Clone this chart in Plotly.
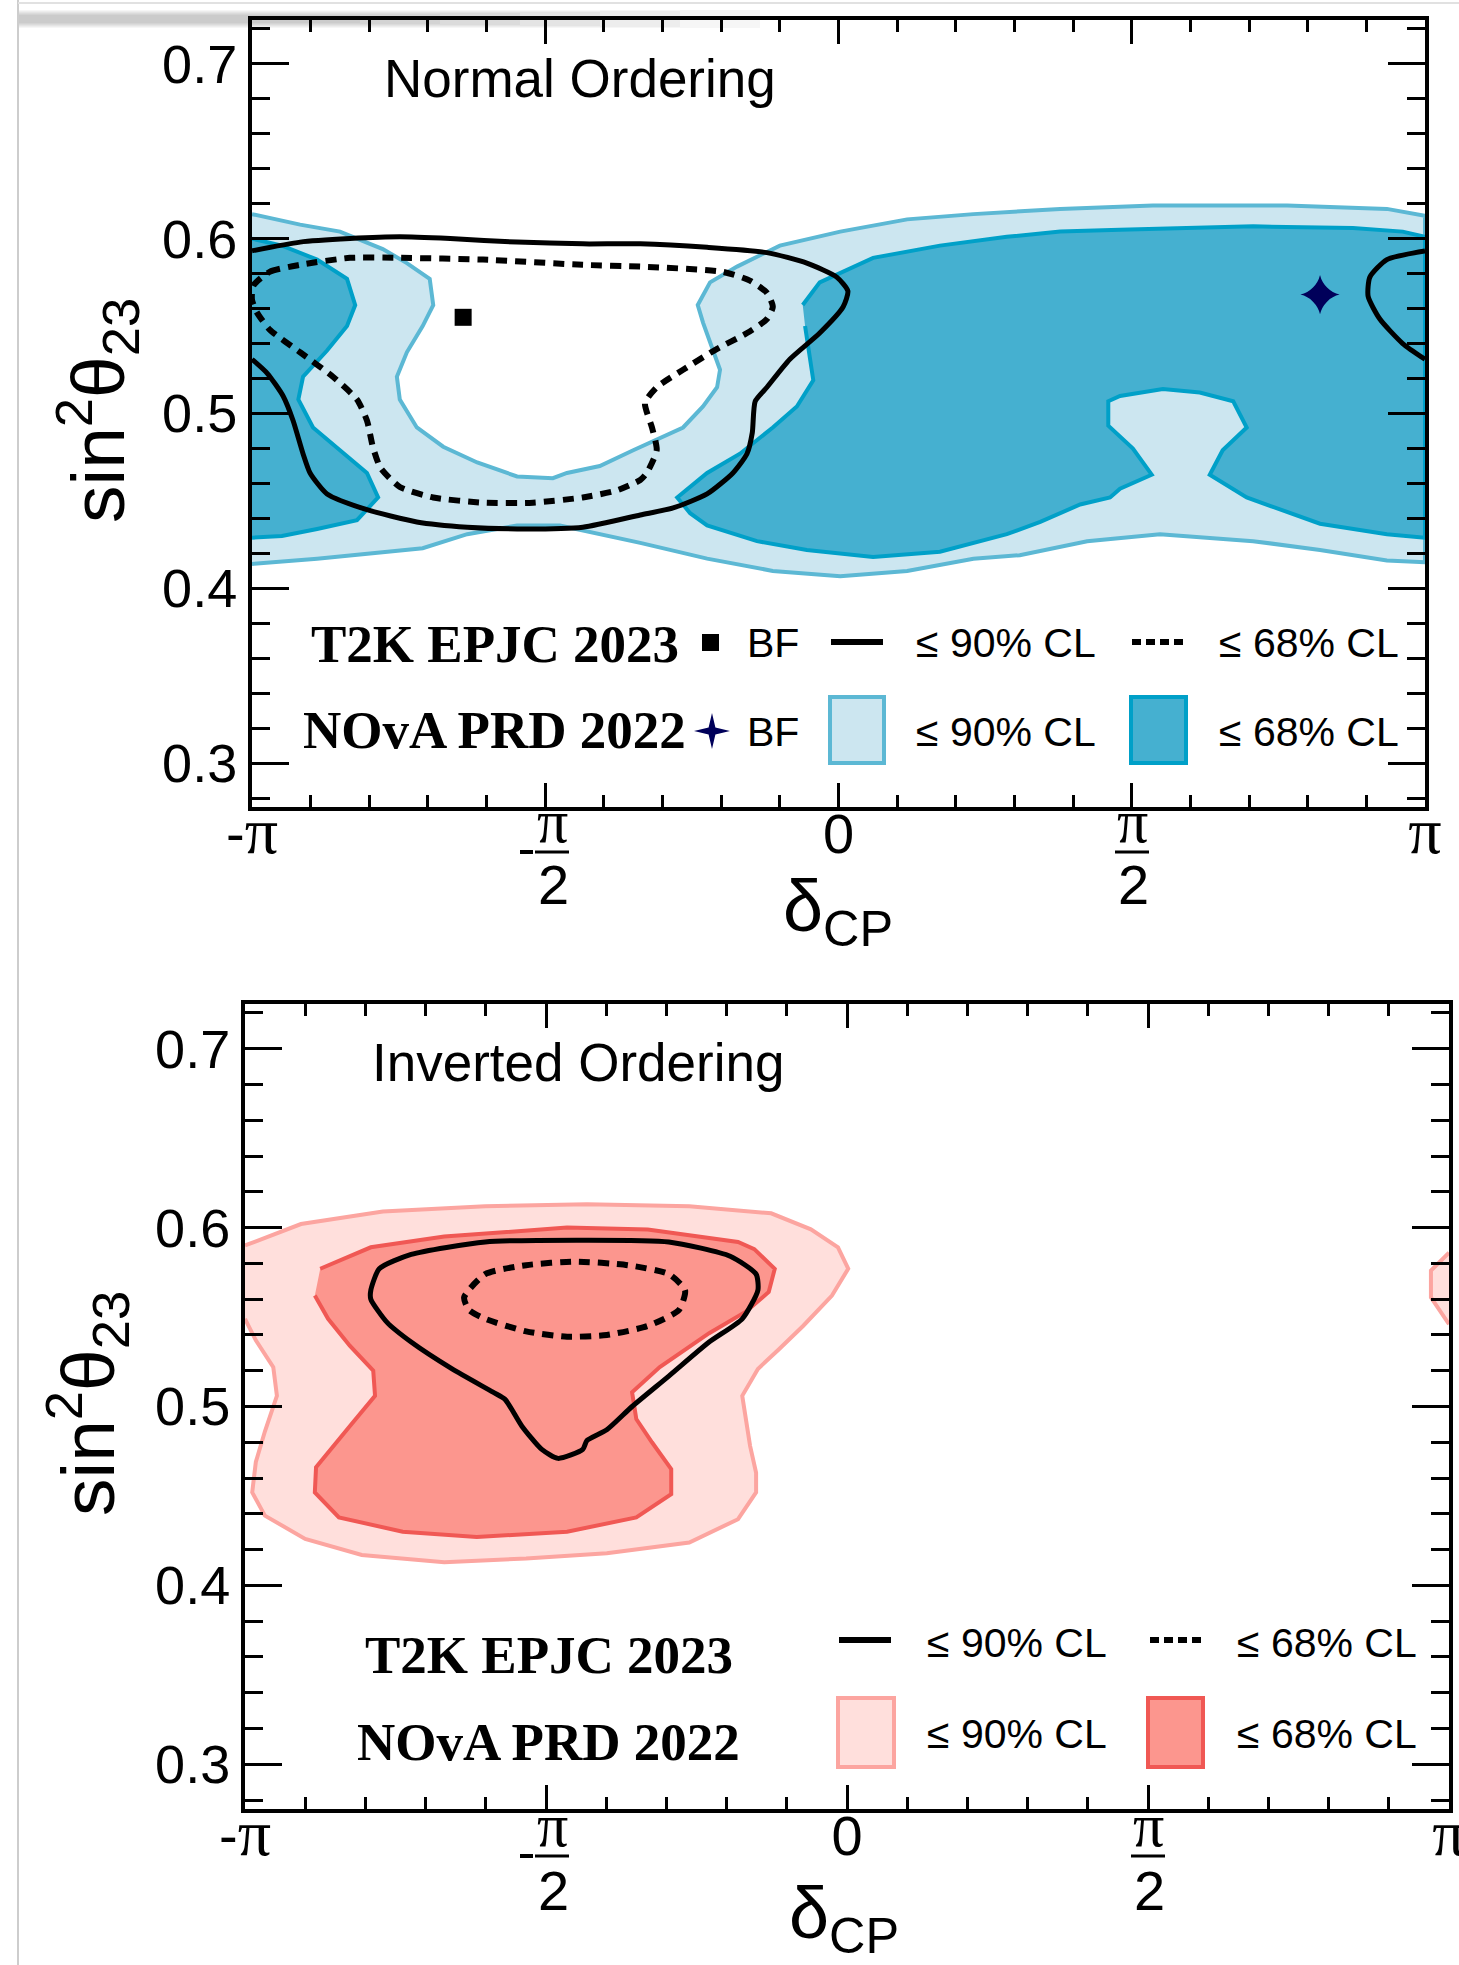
import plotly.graph_objects as go

W, H = 1459, 1965

# ---------------- DATA (x = delta_CP / pi, y = sin^2 theta_23) ----------------
# Normal Ordering - NOvA PRD 2022, 90% CL band (upper edge and lower edge, left -> right)
no_nova90_up_x = [-1.0, -0.918, -0.850, -0.777, -0.736, -0.697, -0.691, -0.709, -0.736, -0.753, -0.748, -0.719,
                  -0.674, -0.616, -0.548, -0.487, -0.463, -0.407, -0.350, -0.287, -0.265, -0.231, -0.207, -0.202,
                  -0.216, -0.231, -0.240, -0.219, -0.173, -0.100, 0.003, 0.117, 0.230, 0.378, 0.536, 0.765, 0.935, 1.0]
no_nova90_up_y = [0.614, 0.608, 0.604, 0.594, 0.586, 0.577, 0.562, 0.550, 0.535, 0.521, 0.508, 0.492,
                  0.481, 0.472, 0.464, 0.463, 0.466, 0.470, 0.479, 0.489, 0.492, 0.504, 0.515, 0.525,
                  0.538, 0.552, 0.562, 0.575, 0.584, 0.596, 0.604, 0.611, 0.614, 0.617, 0.619, 0.619, 0.617, 0.613]
no_nova90_lo_x = [-1.0, -0.889, -0.794, -0.709, -0.633, -0.548, -0.475, -0.407, -0.338, -0.224, -0.112,
                  0.003, 0.117, 0.230, 0.309, 0.424, 0.548, 0.707, 0.821, 0.935, 1.0]
no_nova90_lo_y = [0.414, 0.417, 0.420, 0.423, 0.431, 0.436, 0.436, 0.431, 0.426, 0.417, 0.410,
                  0.407, 0.410, 0.417, 0.419, 0.427, 0.431, 0.427, 0.422, 0.416, 0.415]

# Normal Ordering - NOvA 68% CL: piece at the left edge and main region
no_nova68_left_x = [-1.0, -0.949, -0.889, -0.838, -0.824, -0.838, -0.872, -0.913, -0.921, -0.896, -0.850,
                    -0.804, -0.785, -0.821, -0.889, -0.949, -1.0]
no_nova68_left_y = [0.600, 0.596, 0.588, 0.577, 0.562, 0.550, 0.536, 0.521, 0.508, 0.492, 0.479,
                    0.466, 0.452, 0.439, 0.434, 0.430, 0.429]
no_nova68_main_x = [-0.061, -0.032, 0.059, 0.173, 0.287, 0.378, 0.480, 0.707, 0.877, 0.962, 1.0, 1.0,
                    0.935, 0.821, 0.696, 0.633, 0.655, 0.696, 0.673, 0.616, 0.553, 0.480, 0.460, 0.460,
                    0.502, 0.534, 0.480, 0.463, 0.412, 0.344, 0.287, 0.173, 0.059, -0.054, -0.139, -0.224,
                    -0.253, -0.275, -0.224, -0.168, -0.112, -0.071, -0.043, -0.052, -0.057]
no_nova68_main_y = [0.562, 0.575, 0.589, 0.596, 0.601, 0.604, 0.605, 0.607, 0.606, 0.604, 0.601, 0.429,
                    0.431, 0.437, 0.452, 0.465, 0.479, 0.492, 0.507, 0.512, 0.514, 0.510, 0.507, 0.493,
                    0.480, 0.465, 0.457, 0.452, 0.448, 0.438, 0.431, 0.421, 0.418, 0.422, 0.427, 0.436,
                    0.443, 0.452, 0.466, 0.477, 0.492, 0.504, 0.519, 0.538, 0.550]

# Normal Ordering - T2K EPJC 2023 90% CL (main contour + wrap-around piece) and 68% CL
no_t2k90_x = [-1.0, -0.918, -0.833, -0.748, -0.662, -0.548, -0.436, -0.338, -0.224, -0.122, -0.054, -0.003,
              0.016, 0.008, -0.032, -0.083, -0.122, -0.142, -0.147, -0.156, -0.180, -0.224, -0.282, -0.338,
              -0.436, -0.548, -0.633, -0.719, -0.804, -0.872, -0.901, -0.913, -0.930, -0.947, -0.974, -1.0]
no_t2k90_y = [0.593, 0.598, 0.600, 0.601, 0.600, 0.598, 0.597, 0.597, 0.595, 0.592, 0.586, 0.578,
              0.570, 0.561, 0.546, 0.531, 0.515, 0.507, 0.489, 0.477, 0.466, 0.454, 0.446, 0.442,
              0.435, 0.434, 0.435, 0.438, 0.445, 0.454, 0.466, 0.477, 0.496, 0.510, 0.523, 0.531]
no_t2k90_right_x = [1.0, 0.935, 0.906, 0.903, 0.923, 0.962, 1.0]
no_t2k90_right_y = [0.593, 0.588, 0.578, 0.567, 0.554, 0.540, 0.531]
no_t2k68_x = [-0.998, -0.970, -0.918, -0.833, -0.748, -0.606, -0.436, -0.338, -0.197, -0.151, -0.122, -0.112,
              -0.122, -0.156, -0.207, -0.265, -0.310, -0.330, -0.318, -0.310, -0.327, -0.338, -0.378, -0.436,
              -0.521, -0.606, -0.691, -0.748, -0.781, -0.794, -0.804, -0.821, -0.862, -0.918, -0.970, -0.992,
              -1.0, -0.998]
no_t2k68_y = [0.573, 0.581, 0.585, 0.589, 0.589, 0.588, 0.585, 0.584, 0.581, 0.576, 0.569, 0.561,
              0.554, 0.546, 0.537, 0.525, 0.515, 0.506, 0.492, 0.479, 0.466, 0.462, 0.456, 0.452,
              0.449, 0.449, 0.452, 0.458, 0.469, 0.481, 0.496, 0.508, 0.521, 0.535, 0.548, 0.558,
              0.565, 0.573]
no_t2k_bf = ([-0.640], [0.555])
no_nova_bf = ([0.821], [0.568])

# Inverted Ordering - NOvA 90% CL (main + wrap piece), 68% CL
io_nova90_x = [-1.0, -0.907, -0.771, -0.601, -0.432, -0.262, -0.126, -0.060, -0.015, 0.002, -0.025, -0.073,
               -0.113, -0.148, -0.174, -0.168, -0.161, -0.151, -0.151, -0.181, -0.262, -0.399, -0.533, -0.669,
               -0.806, -0.900, -0.967, -0.988, -0.982, -0.967, -0.947, -0.953, -0.982, -1.0]
io_nova90_y = [0.590, 0.602, 0.609, 0.612, 0.613, 0.612, 0.608, 0.599, 0.589, 0.577, 0.562, 0.545,
               0.532, 0.521, 0.506, 0.493, 0.478, 0.463, 0.452, 0.437, 0.424, 0.418, 0.415, 0.413,
               0.417, 0.426, 0.439, 0.452, 0.469, 0.486, 0.506, 0.522, 0.537, 0.549]
io_nova90_right_x = [1.0, 0.970, 0.970, 1.0]
io_nova90_right_y = [0.586, 0.576, 0.561, 0.546]
io_nova68_x = [-0.875, -0.791, -0.669, -0.465, -0.331, -0.181, -0.154, -0.120, -0.130, -0.168, -0.229, -0.311,
               -0.357, -0.350, -0.324, -0.292, -0.292, -0.350, -0.465, -0.615, -0.738, -0.844, -0.884, -0.882,
               -0.826, -0.784, -0.787, -0.826, -0.862, -0.884]
io_nova68_y = [0.577, 0.589, 0.595, 0.600, 0.599, 0.592, 0.588, 0.577, 0.564, 0.553, 0.541, 0.522,
               0.508, 0.493, 0.480, 0.465, 0.451, 0.438, 0.430, 0.427, 0.430, 0.438, 0.452, 0.466,
               0.489, 0.506, 0.520, 0.534, 0.549, 0.562]
# Inverted Ordering - T2K 90% and 68% CL
io_t2k90_x = [-0.791, -0.777, -0.724, -0.601, -0.439, -0.296, -0.194, -0.151, -0.148, -0.174, -0.229, -0.296,
              -0.357, -0.399, -0.432, -0.439, -0.480, -0.507, -0.540, -0.568, -0.588, -0.656, -0.724, -0.764,
              -0.791, -0.791]
io_t2k90_y = [0.565, 0.577, 0.585, 0.592, 0.593, 0.592, 0.584, 0.574, 0.565, 0.549, 0.536, 0.517,
              0.500, 0.487, 0.481, 0.476, 0.471, 0.476, 0.489, 0.504, 0.508, 0.521, 0.536, 0.547,
              0.560, 0.565]
io_t2k68_x = [-0.636, -0.601, -0.533, -0.452, -0.364, -0.296, -0.269, -0.279, -0.331, -0.399, -0.465, -0.533,
              -0.601, -0.628, -0.636]
io_t2k68_y = [0.561, 0.574, 0.579, 0.581, 0.579, 0.574, 0.565, 0.554, 0.545, 0.540, 0.539, 0.542,
              0.549, 0.554, 0.561]

# Axis ticks
PI_SPAN = "<span style='font-family:Liberation Serif;font-size:66px'>π</span>"
x_tick_vals = [-1.0, -0.5, 0.0, 0.5, 1.0]
x_tick_text = ["-" + PI_SPAN, "", "0", "", PI_SPAN]
y_tick_vals = [0.3, 0.4, 0.5, 0.6, 0.7]
y_tick_text = ["0.3", "0.4", "0.5", "0.6", "0.7"]

# ---------------- STYLE ----------------
BL_FILL, BL_LINE = "rgb(204,230,240)", "rgb(92,184,212)"
BD_FILL, BD_LINE = "rgb(69,176,208)", "rgb(0,160,200)"
RL_FILL, RL_LINE = "rgb(255,223,220)", "rgb(252,165,160)"
RD_FILL, RD_LINE = "rgb(252,150,142)", "rgb(240,88,84)"
NAVY = "rgb(0,0,90)"
SANS = "Liberation Sans, Arial, sans-serif"
SERIF = "Liberation Serif, Times New Roman, serif"
DOT = "11px,8px"

fig = go.Figure()


def region(x, y, fill, line, xa, ya):
    fig.add_trace(go.Scatter(x=x, y=y, mode="lines", fill="toself", fillcolor=fill,
                             line=dict(color=line, width=4), xaxis=xa, yaxis=ya,
                             hoverinfo="skip", showlegend=False))


def curve(x, y, xa, ya, dash="solid", width=5):
    fig.add_trace(go.Scatter(x=x, y=y, mode="lines", line=dict(color="black", width=width, dash=dash,
                                                               shape="spline", smoothing=0.6),
                             xaxis=xa, yaxis=ya, hoverinfo="skip", showlegend=False))


# top panel
region(no_nova90_up_x + no_nova90_lo_x[::-1], no_nova90_up_y + no_nova90_lo_y[::-1], BL_FILL, BL_LINE, "x", "y")
region(no_nova68_left_x, no_nova68_left_y, BD_FILL, BD_LINE, "x", "y")
region(no_nova68_main_x, no_nova68_main_y, BD_FILL, BD_LINE, "x", "y")
curve(no_t2k90_x, no_t2k90_y, "x", "y")
curve(no_t2k90_right_x, no_t2k90_right_y, "x", "y")
curve(no_t2k68_x, no_t2k68_y, "x", "y", dash=DOT, width=6)
fig.add_trace(go.Scatter(x=no_t2k_bf[0], y=no_t2k_bf[1], mode="markers",
                         marker=dict(symbol="square", size=17, color="black"),
                         xaxis="x", yaxis="y", hoverinfo="skip", showlegend=False))
fig.add_trace(go.Scatter(x=no_nova_bf[0], y=no_nova_bf[1], mode="markers",
                         marker=dict(symbol="star-diamond", size=28, color=NAVY, line=dict(width=0)),
                         xaxis="x", yaxis="y", hoverinfo="skip", showlegend=False))

# bottom panel
region(io_nova90_x, io_nova90_y, RL_FILL, RL_LINE, "x2", "y2")
region(io_nova90_right_x, io_nova90_right_y, RL_FILL, RL_LINE, "x2", "y2")
region(io_nova68_x, io_nova68_y, RD_FILL, RD_LINE, "x2", "y2")
curve(io_t2k90_x, io_t2k90_y, "x2", "y2")
curve(io_t2k68_x, io_t2k68_y, "x2", "y2", dash=DOT, width=6)


# ---------------- AXES ----------------
def px(x):
    return x / W


def py(y):
    return 1 - y / H


def xaxis_cfg(x0, x1, anchor):
    return dict(domain=[px(x0), px(x1)], range=[-1, 1], anchor=anchor,
                tickmode="array", tickvals=x_tick_vals, ticktext=x_tick_text,
                ticks="inside", ticklen=24, tickwidth=3, tickcolor="black",
                minor=dict(ticks="inside", ticklen=12, tickwidth=3, tickcolor="black",
                           tickmode="linear", tick0=0, dtick=0.1, showgrid=False),
                showline=True, linewidth=4, linecolor="black", mirror="ticks",
                showgrid=False, zeroline=False, fixedrange=True, automargin=False,
                ticklabelstandoff=-25, ticklabeloverflow="allow",
                tickfont=dict(family=SANS, size=56, color="black"))


def yaxis_cfg(y_top, y_bot, anchor):
    return dict(domain=[py(y_bot), py(y_top)], range=[0.275, 0.725], anchor=anchor,
                tickmode="array", tickvals=y_tick_vals, ticktext=y_tick_text,
                ticks="inside", ticklen=37, tickwidth=3, tickcolor="black",
                minor=dict(ticks="inside", ticklen=18, tickwidth=3, tickcolor="black",
                           tickmode="linear", tick0=0.3, dtick=0.02, showgrid=False),
                showline=True, linewidth=4, linecolor="black", mirror="ticks",
                showgrid=False, zeroline=False, fixedrange=True, automargin=False,
                tickfont=dict(family=SANS, size=54, color="black"))


annotations = []
shapes = []


def text(t, x, y, size, family=SANS, xanchor="left", yanchor="middle", color="black", angle=0):
    annotations.append(dict(text=t, x=px(x), y=py(y), xref="paper", yref="paper", xanchor=xanchor,
                            yanchor=yanchor, showarrow=False, textangle=angle,
                            font=dict(family=family, size=size, color=color)))


def hline(x0, x1, y, width, dash="solid", color="black"):
    shapes.append(dict(type="line", xref="paper", yref="paper", x0=px(x0), x1=px(x1), y0=py(y), y1=py(y),
                       line=dict(color=color, width=width, dash=dash)))


def box(x0, x1, y0, y1, fill, line, lw=4):
    shapes.append(dict(type="rect", xref="paper", yref="paper", x0=px(x0), x1=px(x1), y0=py(y1), y1=py(y0),
                       fillcolor=fill, line=dict(color=line, width=lw)))


# fraction tick labels for -pi/2 and pi/2
def frac(xc, y_pi, y_bar, y_two, minus):
    text("π", xc, y_pi - 10, 62, family=SERIF, xanchor="center")
    text("2", xc + 1, y_two, 56, xanchor="center")
    hline(xc - 17, xc + 17, y_bar, 3)
    if minus:
        hline(xc - 32, xc - 19, y_bar, 4)


frac(552, 831, 852, 884, True)
frac(1132, 831, 852, 884, False)
frac(552, 1835, 1856, 1890, True)
frac(1148, 1835, 1856, 1890, False)

# panel labels
text("Normal Ordering", 382, 78, 53)
text("Inverted Ordering", 370, 1062, 53)

# axis titles
text("sin<sup>2</sup>θ<sub>23</sub>", 97, 411, 75, xanchor="center", angle=-90)
text("sin<sup>2</sup>θ<sub>23</sub>", 87, 1404, 75, xanchor="center", angle=-90)
text("δ<sub>CP</sub>", 838, 912, 72, xanchor="center")
text("δ<sub>CP</sub>", 844, 1918, 72, xanchor="center")

# legend - top panel
text("<b>T2K EPJC 2023</b>", 309, 644, 53, family=SERIF)
text("<b>NOvA PRD 2022</b>", 301, 730, 53, family=SERIF)
box(702, 719, 634, 651, "black", "black", 0)
star = "M 0,18 L 3.4,3.4 L 18,0 L 3.4,-3.4 L 0,-18 L -3.4,-3.4 L -18,0 L -3.4,3.4 Z"
shapes.append(dict(type="path", xref="paper", yref="paper", xsizemode="pixel", ysizemode="pixel",
                   xanchor=px(712), yanchor=py(731), path=star, fillcolor=NAVY, line=dict(width=0)))
for yy in (643, 732):
    text("BF", 745, yy, 41)
hline(831, 883, 642, 6)
hline(1132, 1184, 642, 6, dash="9px,5px")
text("≤ 90% CL", 914, 643, 41)
text("≤ 68% CL", 1217, 643, 41)
box(830, 884, 697, 763, BL_FILL, BL_LINE)
box(1131, 1186, 697, 763, BD_FILL, BD_LINE)
text("≤ 90% CL", 914, 732, 41)
text("≤ 68% CL", 1217, 732, 41)

# legend - bottom panel
text("<b>T2K EPJC 2023</b>", 363, 1655, 53, family=SERIF)
text("<b>NOvA PRD 2022</b>", 355, 1742, 53, family=SERIF)
hline(839, 891, 1640, 6)
hline(1150, 1201, 1640, 6, dash="9px,5px")
text("≤ 90% CL", 925, 1643, 41)
text("≤ 68% CL", 1235, 1643, 41)
box(838, 894, 1698, 1767, RL_FILL, RL_LINE)
box(1148, 1203, 1698, 1767, RD_FILL, RD_LINE)
text("≤ 90% CL", 925, 1734, 41)
text("≤ 68% CL", 1235, 1734, 41)

# page decoration (scan border / shadow)
shapes.append(dict(type="line", xref="paper", yref="paper", x0=px(18), x1=px(18), y0=0, y1=1,
                   line=dict(color="rgb(205,205,205)", width=2)))
shapes.append(dict(type="line", xref="paper", yref="paper", x0=px(18), x1=1, y0=py(3), y1=py(3),
                   line=dict(color="rgb(225,225,225)", width=2)))
for i, x_end in enumerate([760, 680, 600, 520, 440, 360]):
    shapes.append(dict(type="rect", xref="paper", yref="paper", x0=px(19), x1=px(x_end),
                       y0=py(28 - i), y1=py(10 + i), fillcolor="rgba(0,0,0,0.035)",
                       line=dict(width=0), layer="below"))

fig.update_layout(
    width=W, height=H, autosize=False,
    margin=dict(l=0, r=0, t=0, b=0, pad=0, autoexpand=False),
    paper_bgcolor="white", plot_bgcolor="white",
    xaxis=xaxis_cfg(252, 1425, "y"),
    yaxis=yaxis_cfg(20, 807, "x"),
    xaxis2=xaxis_cfg(245, 1449, "y2"),
    yaxis2=yaxis_cfg(1004, 1809, "x2"),
    annotations=annotations,
    shapes=shapes,
    showlegend=False,
)

fig.write_html("out.html")
